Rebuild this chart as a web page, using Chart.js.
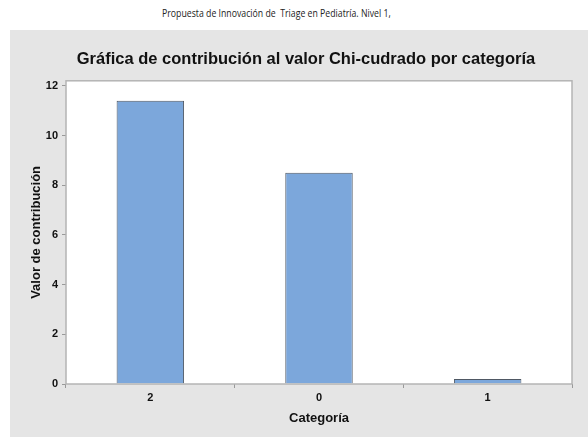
<!DOCTYPE html>
<html>
<head>
<meta charset="utf-8">
<script src="https://cdn.jsdelivr.net/npm/chart.js@4.4.0/dist/chart.umd.min.js"></script>
<style>
  body { margin: 0; background: #fff; width: 588px; height: 437px; overflow: hidden; position: relative; }
  .header {
    position: absolute; left: 162px; top: 6px;
    font-family: "Open Sans", sans-serif; font-size: 10px; color: #222;
    white-space: pre; transform: scaleX(0.873); transform-origin: left top;
  }
  .panel { position: absolute; left: 10px; top: 30px; width: 578px; height: 407px; background: #e5e5e5; }
</style>
</head>
<body>
<div class="header">Propuesta de Innovación de  Triage en Pediatría. Nivel 1,</div>
<div class="panel"><canvas id="myChart" width="578" height="407"></canvas></div>
<script>
const categorias = ["2", "0", "1"];
const contribucion = [11.4, 8.5, 0.2];
const yTickValues = [0, 2, 4, 6, 8, 10, 12];

// fondo blanco y marco gris del area de datos
const marco = {
  id: "marco",
  beforeDraw(chart) {
    const a = chart.chartArea;
    chart.ctx.save();
    chart.ctx.fillStyle = "#ffffff";
    chart.ctx.fillRect(a.left, a.top, a.right - a.left, a.bottom - a.top);
    chart.ctx.restore();
  },
  afterDraw(chart) {
    const a = chart.chartArea;
    const ctx = chart.ctx;
    ctx.save();
    ctx.strokeStyle = "#b4b4b4";
    ctx.lineWidth = 1.5;
    ctx.strokeRect(a.left, a.top, a.right - a.left, a.bottom - a.top);
    ctx.restore();
  },
};

const fuenteEje = { family: "Liberation Sans", size: 13, weight: "bold" };
const fuenteTicks = { family: "Liberation Sans", size: 11, weight: "bold" };

new Chart("myChart", {
  type: "bar",
  data: {
    labels: categorias,
    datasets: [
      {
        data: contribucion,
        backgroundColor: "#7ca7db",
        borderColor: "#4f5864",
        borderWidth: 1,
        barPercentage: 0.4,
        categoryPercentage: 1,
      },
    ],
  },
  options: {
    responsive: false,
    animation: false,
    layout: { padding: { left: 14, right: 0, top: 0, bottom: 0 } },
    plugins: {
      legend: { display: false },
      tooltip: { enabled: false },
      title: {
        display: true,
        text: "Gráfica de contribución al valor Chi-cudrado por categoría",
        color: "#111",
        font: { family: "Liberation Sans", size: 16.5, weight: "bold" },
        padding: { top: 20, bottom: 11 },
      },
    },
    scales: {
      x: {
        grid: { drawOnChartArea: false, drawTicks: true, tickLength: 4, color: "#999" },
        border: { display: false },
        ticks: { color: "#111", padding: 3, font: fuenteTicks },
        title: {
          display: true,
          text: "Categoría",
          color: "#111",
          font: fuenteEje,
          padding: { top: 0, bottom: 11 },
        },
        afterFit: (scale) => {
          scale.height = 53;
        },
      },
      y: {
        min: 0,
        max: 12.2,
        afterBuildTicks: (scale) => {
          scale.ticks = yTickValues.map((v) => ({ value: v }));
        },
        grid: { drawOnChartArea: false, drawTicks: true, tickLength: 4, color: "#999" },
        border: { display: false },
        ticks: { color: "#111", padding: 4, font: fuenteTicks },
        title: {
          display: true,
          text: "Valor de contribución",
          color: "#111",
          font: fuenteEje,
          padding: { top: 5, bottom: 0 },
        },
        afterFit: (scale) => {
          scale.width = 42;
        },
      },
      // margen derecho del area de datos
      derecha: {
        position: "right",
        grid: { display: false },
        border: { display: false },
        ticks: { display: false },
        afterFit: (scale) => {
          scale.width = 16;
        },
      },
    },
  },
  plugins: [marco],
});
</script>
</body>
</html>
